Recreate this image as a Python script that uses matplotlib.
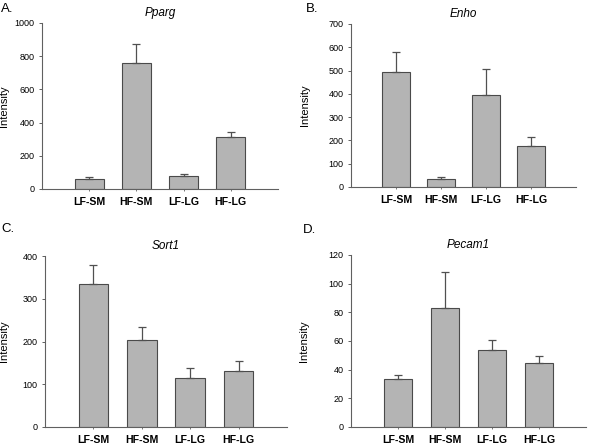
import matplotlib
matplotlib.use("Agg")
import matplotlib.pyplot as plt

plt.rcParams['font.family'] = ['Liberation Sans', 'DejaVu Sans']

groups = ['LF-SM', 'HF-SM', 'LF-LG', 'HF-LG']

# mean and upper error (SEM) per gene
pparg = [60, 757, 78, 311]
pparg_err = [12, 116, 12, 32]
enho = [496, 35, 396, 175]
enho_err = [84, 10, 112, 41]
sort1 = [335, 203, 115, 132]
sort1_err = [45, 30, 22, 22]
pecam1 = [33.5, 83, 54, 44.5]
pecam1_err = [3, 25, 7, 5]

W, H = 600, 446

# letter, gene, values, errors, ymax, step, axes box in pixels (left, top, right, bottom),
# letter position (x, y), ylabel centre x
panels = [
    ('A.', 'Pparg', pparg, pparg_err, 1000, 200, (42, 23, 278, 189), (1, 3), 8.5),
    ('B.', 'Enho', enho, enho_err, 700, 100, (351, 24, 576, 187), (306, 3), 310),
    ('C.', 'Sort1', sort1, sort1_err, 400, 100, (45, 256, 287, 427), (1, 223), 9),
    ('D.', 'Pecam1', pecam1, pecam1_err, 120, 20, (351, 255, 586, 427), (303, 224), 308.5),
]

fig = plt.figure(figsize=(W / 100, H / 100), dpi=100)

for letter, gene, vals, errs, ymax, step, box, lpos, ylx in panels:
    l, t, r, b = box
    ax = fig.add_axes([l / W, 1 - b / H, (r - l) / W, (b - t) / H])
    x = range(len(groups))
    ax.bar(x, vals, width=0.61, color='#b4b4b4', edgecolor='#4a4a4a', linewidth=0.8,
           yerr=[[0] * len(errs), errs], capsize=3,
           error_kw=dict(ecolor='#505050', elinewidth=0.9, capthick=0.9))
    ax.set_xlim(-1, 4)
    ax.set_ylim(0, ymax)
    ax.set_yticks(range(0, ymax + 1, step))
    ax.set_xticks(list(x))
    ax.set_xticklabels(groups, fontweight='bold', fontsize=7.6)
    ax.tick_params(axis='y', labelsize=6.5, length=2.5, width=0.7, color='#606060', pad=3)
    ax.tick_params(axis='x', length=1.5, width=0.6, color='#606060', pad=4.5)
    for s in ['top', 'right']:
        ax.spines[s].set_visible(False)
    for s in ['left', 'bottom']:
        ax.spines[s].set_color('#606060')
        ax.spines[s].set_linewidth(0.8)
    ax.set_ylabel('Intensity', fontsize=8)
    ax.yaxis.set_label_coords((ylx - l) / (r - l), 0.5)
    ax.set_title(gene, fontstyle='italic', fontsize=8.5, pad=5)
    fig.text(lpos[0] / W, 1 - lpos[1] / H, letter, fontsize=9.5, va='top', ha='left')

fig.savefig('out.png', dpi=100)
